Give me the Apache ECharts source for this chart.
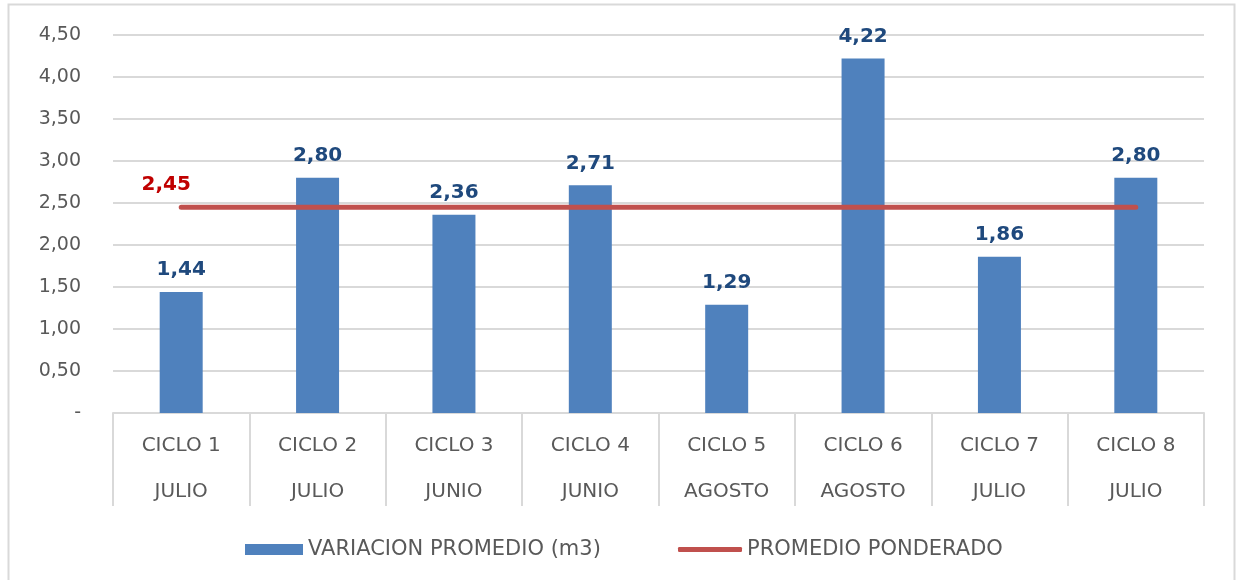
<!DOCTYPE html>
<html>
<head>
<meta charset="utf-8">
<script src="https://cdn.jsdelivr.net/npm/echarts@6/dist/echarts.min.js"></script>
<style>
  html, body { margin: 0; padding: 0; background: #ffffff; }
  #chart { width: 1236px; height: 580px; }
</style>
</head>
<body>
<div id="chart"></div>
<script>
// Ciclos y mes de cada ciclo
const ciclos = ['CICLO 1', 'CICLO 2', 'CICLO 3', 'CICLO 4', 'CICLO 5', 'CICLO 6', 'CICLO 7', 'CICLO 8'];
const meses = ['JULIO', 'JULIO', 'JUNIO', 'JUNIO', 'AGOSTO', 'AGOSTO', 'JULIO', 'JULIO'];

// Variación promedio (m3) por ciclo
const variacion = [1.44, 2.80, 2.36, 2.71, 1.29, 4.22, 1.86, 2.80];

// Promedio ponderado
const promedioPonderado = 2.45;
const promedioLinea = ciclos.map(() => promedioPonderado);

const serieBarras = 'VARIACION PROMEDIO (m3)';
const serieLinea = 'PROMEDIO PONDERADO';

const WIDE = '"DejaVu Sans", "Open Sans", sans-serif';
const fmt = v => v.toFixed(2).replace('.', ',');

const categorias = ciclos.map((c, i) => c + '\n' + meses[i]);

const chart = echarts.init(document.getElementById('chart'), null, { renderer: 'canvas' });

chart.setOption({
  animation: false,
  backgroundColor: '#ffffff',
  textStyle: { fontFamily: WIDE },
  graphic: [{
    type: 'rect',
    shape: { x: 8.5, y: 4.5, width: 1226, height: 590 },
    style: { fill: 'none', stroke: '#d9d9d9', lineWidth: 2 },
    silent: true,
    z: -10
  }],
  grid: { left: 113, right: 32, top: 35, bottom: 167 },
  legend: [{
    data: [{ name: serieBarras, icon: 'rect' }],
    left: 240, top: 534,
    itemWidth: 58, itemHeight: 11, itemGap: 6,
    textStyle: { color: '#595959', fontSize: 21, fontFamily: WIDE }
  }, {
    data: [{ name: serieLinea, icon: 'roundRect' }],
    left: 673, top: 534,
    itemWidth: 64, itemHeight: 5, itemGap: 4,
    textStyle: { color: '#595959', fontSize: 21, fontFamily: WIDE }
  }],
  xAxis: {
    type: 'category',
    data: categorias,
    boundaryGap: true,
    axisLine: { show: true, lineStyle: { color: '#d9d9d9', width: 2 } },
    axisTick: { show: true, interval: 0, length: 93, lineStyle: { color: '#d9d9d9', width: 2 } },
    axisLabel: {
      interval: 0,
      color: '#595959',
      fontSize: 20,
      fontFamily: WIDE,
      lineHeight: 46,
      margin: 10
    }
  },
  yAxis: {
    type: 'value',
    min: 0, max: 4.5, interval: 0.5,
    axisLine: { show: false },
    axisTick: { show: false },
    splitLine: { lineStyle: { color: '#d9d9d9', width: 2 } },
    axisLabel: {
      color: '#595959',
      fontSize: 19,
      fontFamily: WIDE,
      margin: 32,
      formatter: v => (v === 0 ? '-' : fmt(v))
    }
  },
  series: [{
    name: serieBarras,
    type: 'bar',
    data: variacion,
    barWidth: 43,
    itemStyle: { color: '#4f81bd' },
    label: {
      show: true,
      position: 'top',
      distance: 12,
      color: '#1f497d',
      fontWeight: 'bold',
      fontSize: 20,
      fontFamily: WIDE,
      formatter: p => fmt(p.value)
    },
    z: 2
  }, {
    name: serieLinea,
    type: 'line',
    data: promedioLinea,
    symbol: 'none',
    lineStyle: { color: '#c0504d', width: 5, cap: 'round' },
    itemStyle: { color: '#c0504d' },
    z: 3,
    markPoint: {
      symbol: 'circle',
      symbolSize: 0,
      data: [{ coord: [0, promedioPonderado], value: promedioPonderado }],
      label: {
        show: true,
        position: 'top',
        offset: [-15, -7],
        color: '#c00000',
        fontWeight: 'bold',
        fontSize: 20,
        fontFamily: WIDE,
        formatter: p => fmt(p.value)
      }
    }
  }]
});
</script>
</body>
</html>
